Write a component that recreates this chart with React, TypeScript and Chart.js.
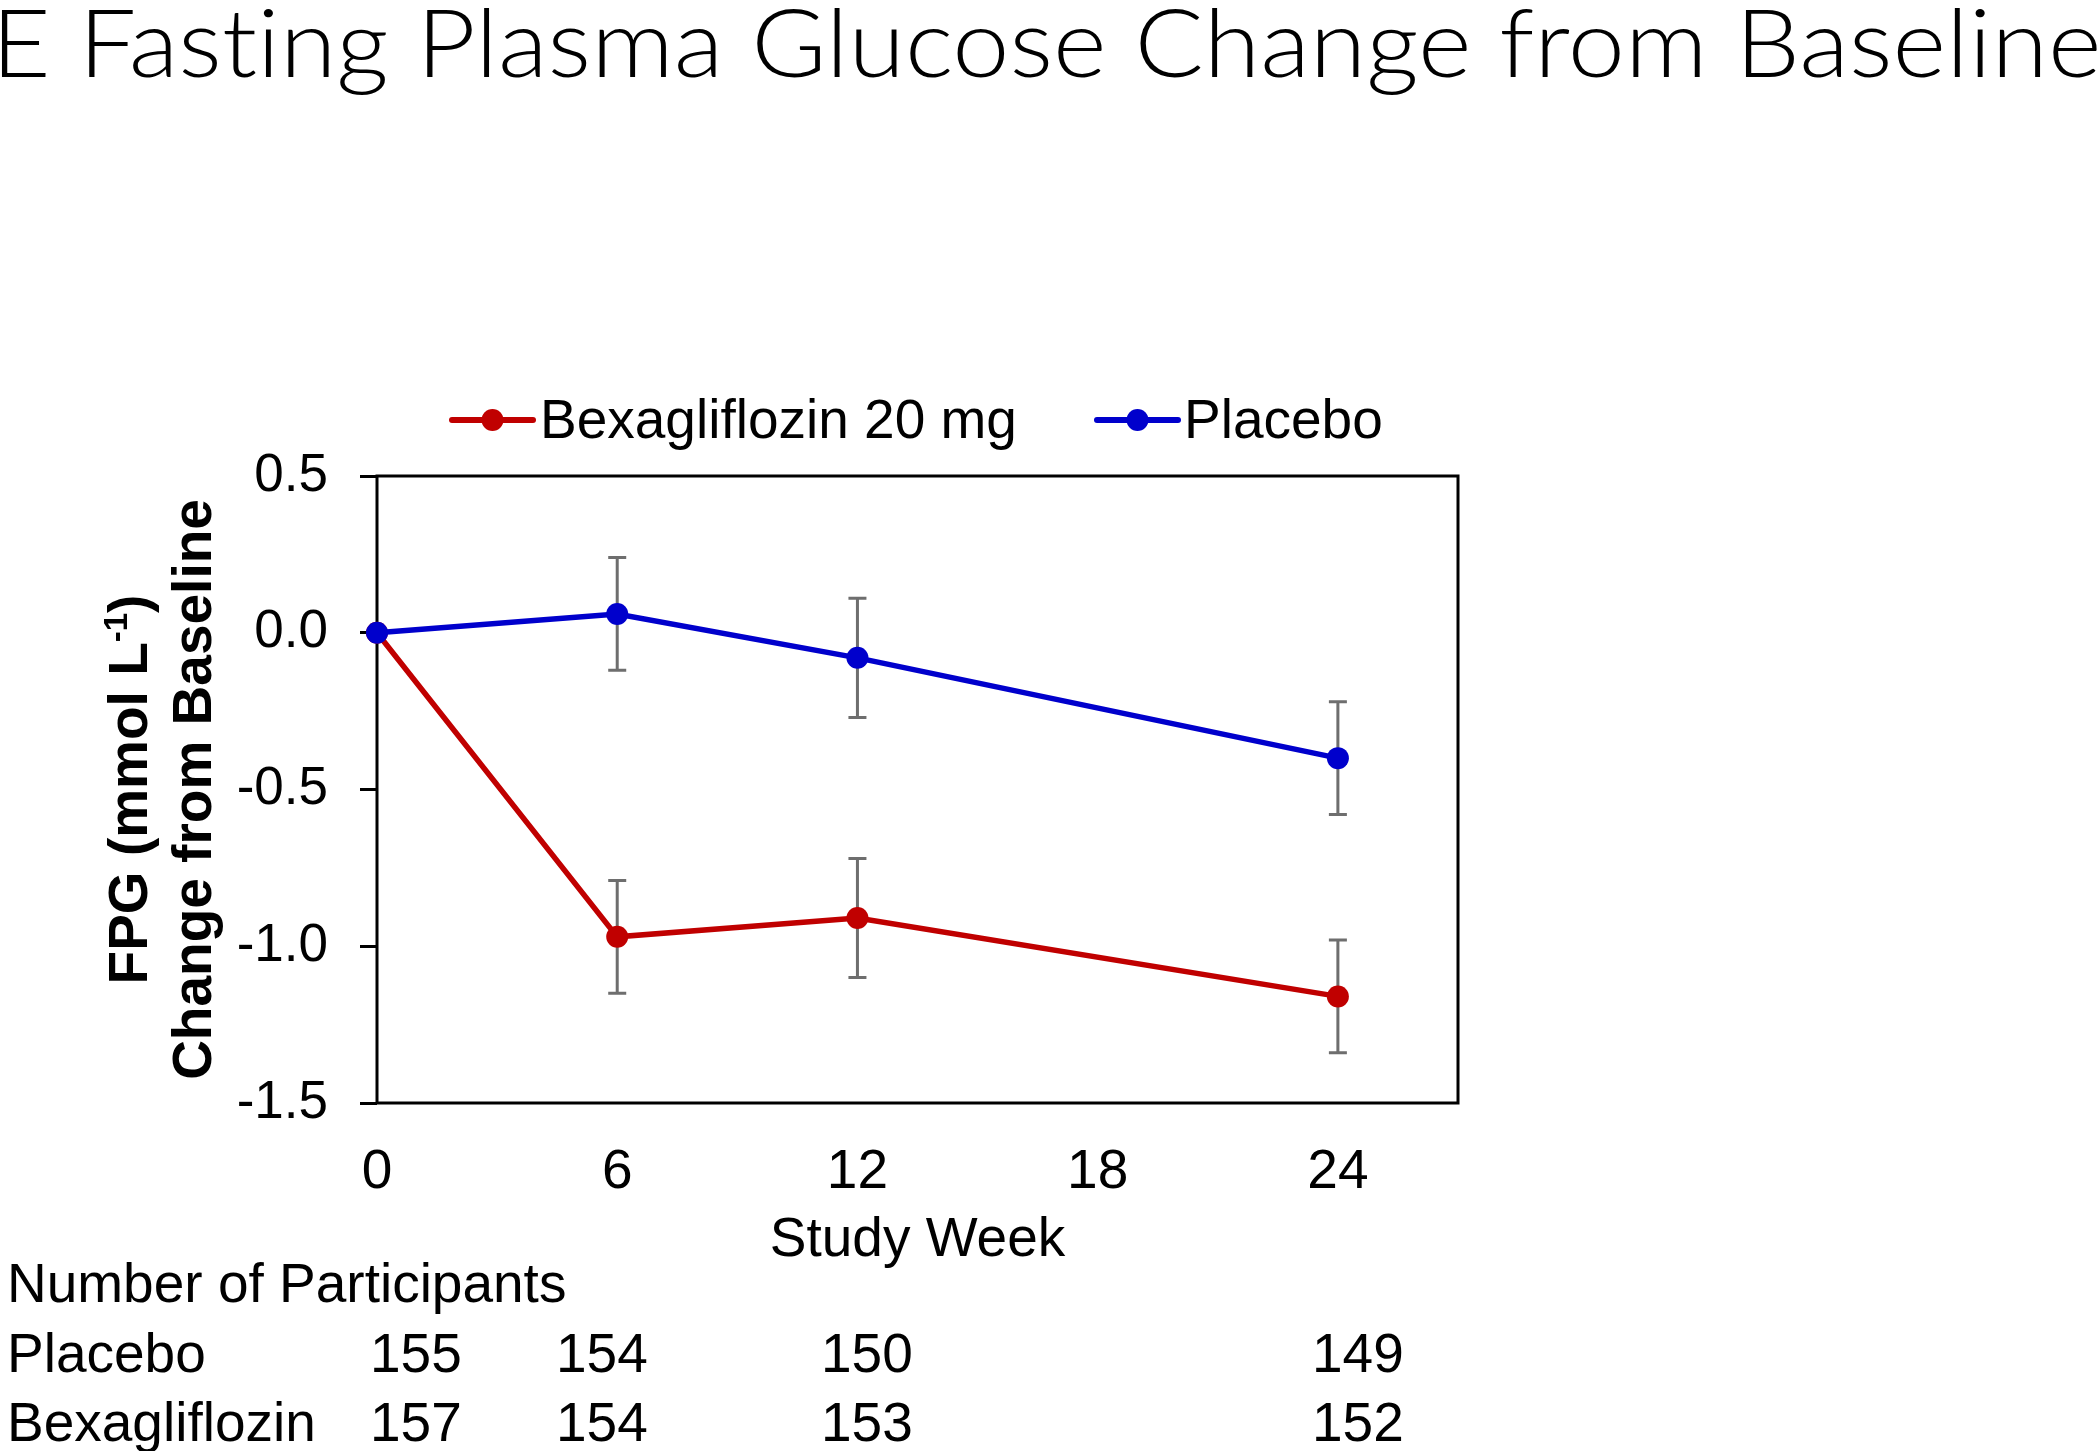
import React, { useEffect, useRef } from "react";
import { Chart, registerables } from "chart.js";

Chart.register(...registerables);

// ---------------- data ----------------
const titleText = "E Fasting Plasma Glucose Change from Baseline";
const weeks = [0, 6, 12, 24];
const bexaLabel = "Bexagliflozin 20 mg";
const placeboLabel = "Placebo";
const bexaMean = [0, -0.97, -0.91, -1.16];
const bexaErr = [0, 0.18, 0.19, 0.18];
const placeboMean = [0, 0.06, -0.08, -0.4];
const placeboErr = [0, 0.18, 0.19, 0.18];
const xTickStep = 6;
const xMin = 0;
const xMax = 27;
const yMin = -1.5;
const yMax = 0.5;
const yTickStep = 0.5;
const xTitle = "Study Week";
const yTitleLine1 = ["FPG (mmol L", "-1", ")"];
const yTitleLine2 = "Change from Baseline";
const tableHeader = "Number of Participants";
const tableRowLabels = ["Placebo", "Bexagliflozin"];
const placeboN = [155, 154, 150, 149];
const bexaN = [157, 154, 153, 152];

// ---------------- styles ----------------
const RED = "#C00000";
const BLUE = "#0000CC";
const GREY = "#6E6E6E";
const FONT = '"Liberation Sans", Arial, sans-serif';

const W = 2100;
const H = 1451;
const AREA = { left: 377, right: 1458, top: 476, bottom: 1103 };

const boxPlugin = {
  id: "plotBox",
  beforeDatasetsDraw(chart: any) {
    const { ctx, chartArea } = chart;
    ctx.save();
    ctx.strokeStyle = "#000";
    ctx.lineWidth = 3;
    ctx.strokeRect(
      chartArea.left,
      chartArea.top,
      chartArea.right - chartArea.left,
      chartArea.bottom - chartArea.top
    );
    ctx.restore();
  },
};

const errorBarPlugin = {
  id: "errorBars",
  beforeDatasetsDraw(chart: any) {
    const { ctx } = chart;
    const x = chart.scales.x;
    const y = chart.scales.y;
    ctx.save();
    ctx.strokeStyle = GREY;
    ctx.lineWidth = 3;
    const cap = 9;
    const sets: [number[], number[]][] = [
      [placeboMean, placeboErr],
      [bexaMean, bexaErr],
    ];
    sets.forEach(([m, e]) => {
      weeks.forEach((w, i) => {
        if (!e[i]) return;
        const px = x.getPixelForValue(w);
        const top = y.getPixelForValue(m[i] + e[i]);
        const bot = y.getPixelForValue(m[i] - e[i]);
        ctx.beginPath();
        ctx.moveTo(px, top);
        ctx.lineTo(px, bot);
        ctx.moveTo(px - cap, top);
        ctx.lineTo(px + cap, top);
        ctx.moveTo(px - cap, bot);
        ctx.lineTo(px + cap, bot);
        ctx.stroke();
      });
    });
    ctx.restore();
  },
};

const textPlugin = {
  id: "texts",
  afterDraw(chart: any) {
    const { ctx, chartArea } = chart;
    ctx.save();
    ctx.fillStyle = "#000";
    ctx.textBaseline = "alphabetic";

    // Title (stretched to fill the width, like the cropped slide title)
    ctx.save();
    ctx.font = '300 94px Lato, "Open Sans", sans-serif';
    try {
      (ctx as any).letterSpacing = "0.01px";
    } catch (e) {}
    const tm = ctx.measureText(titleText);
    const inkW = tm.actualBoundingBoxLeft + tm.actualBoundingBoxRight;
    const sx = 2096 / inkW;
    ctx.translate(1 + tm.actualBoundingBoxLeft * sx, 77);
    ctx.scale(sx, 1);
    ctx.textAlign = "left";
    ctx.fillText(titleText, 0, 0);
    ctx.restore();

    // Legend
    const legendY = 420;
    const items = [
      { color: RED, label: bexaLabel, x1: 452, x2: 533, tx: 540 },
      { color: BLUE, label: placeboLabel, x1: 1097, x2: 1178, tx: 1184 },
    ];
    items.forEach((it) => {
      ctx.strokeStyle = it.color;
      ctx.lineWidth = 6;
      ctx.lineCap = "round";
      ctx.beginPath();
      ctx.moveTo(it.x1, legendY);
      ctx.lineTo(it.x2, legendY);
      ctx.stroke();
      ctx.fillStyle = it.color;
      ctx.beginPath();
      ctx.arc((it.x1 + it.x2) / 2, legendY, 11, 0, Math.PI * 2);
      ctx.fill();
      ctx.fillStyle = "#000";
      ctx.font = `55px ${FONT}`;
      ctx.textAlign = "left";
      ctx.fillText(it.label, it.tx, 438);
    });

    // X axis title
    ctx.font = `55px ${FONT}`;
    ctx.textAlign = "center";
    ctx.fillText(xTitle, (chartArea.left + chartArea.right) / 2, 1256);

    // Y axis title (rotated, two lines, with superscript)
    const cy = (chartArea.top + chartArea.bottom) / 2;
    ctx.save();
    ctx.translate(147, cy);
    ctx.rotate(-Math.PI / 2);
    const big = `bold 55px ${FONT}`;
    const small = `bold 33px ${FONT}`;
    ctx.textAlign = "left";
    ctx.font = big;
    const w1 = ctx.measureText(yTitleLine1[0]).width;
    const w3 = ctx.measureText(yTitleLine1[2]).width;
    ctx.font = small;
    const w2 = ctx.measureText(yTitleLine1[1]).width;
    let sxp = -(w1 + w2 + w3) / 2;
    ctx.font = big;
    ctx.fillText(yTitleLine1[0], sxp, 0);
    sxp += w1;
    ctx.font = small;
    ctx.fillText(yTitleLine1[1], sxp, -20);
    sxp += w2;
    ctx.font = big;
    ctx.fillText(yTitleLine1[2], sxp, 0);
    ctx.textAlign = "center";
    ctx.fillText(yTitleLine2, 0, 64);
    ctx.restore();

    // Participants table
    ctx.font = `55px ${FONT}`;
    ctx.textAlign = "left";
    ctx.fillText(tableHeader, 7, 1302);
    const colX = [370, 556, 821, 1312];
    const rows = [placeboN, bexaN];
    const rowY = [1372, 1441];
    rows.forEach((vals, r) => {
      ctx.fillText(tableRowLabels[r], 7, rowY[r]);
      vals.forEach((v, c) => ctx.fillText(String(v), colX[c], rowY[r]));
    });

    ctx.restore();
  },
};

export default function App() {
  const ref = useRef<HTMLCanvasElement | null>(null);

  useEffect(() => {
    if (!ref.current) return;
    Chart.defaults.font.family = FONT;
    Chart.defaults.color = "#000";
    const chart = new Chart(ref.current, {
      type: "line",
      data: {
        datasets: [
          {
            label: placeboLabel,
            data: weeks.map((w, i) => ({ x: w, y: placeboMean[i] })),
            borderColor: BLUE,
            backgroundColor: BLUE,
            pointBackgroundColor: BLUE,
            pointBorderWidth: 0,
            pointRadius: 11,
            borderWidth: 5.5,
            tension: 0,
            clip: false as any,
            order: 0,
          },
          {
            label: bexaLabel,
            data: weeks.map((w, i) => ({ x: w, y: bexaMean[i] })),
            borderColor: RED,
            backgroundColor: RED,
            pointBackgroundColor: RED,
            pointBorderWidth: 0,
            pointRadius: 11,
            borderWidth: 5.5,
            tension: 0,
            clip: false as any,
            order: 1,
          },
        ],
      },
      options: {
        responsive: false,
        animation: false,
        devicePixelRatio: 1,
        layout: {
          padding: {
            left: 0,
            top: AREA.top,
            right: W - AREA.right,
            bottom: 0,
          },
        },
        plugins: {
          legend: { display: false },
          tooltip: { enabled: false },
          title: { display: false },
        },
        scales: {
          x: {
            type: "linear",
            min: xMin,
            max: xMax,
            border: { display: false },
            grid: { display: false, drawTicks: false },
            ticks: {
              stepSize: xTickStep,
              includeBounds: false,
              padding: 37,
              font: { size: 55, family: FONT },
              color: "#000",
              maxRotation: 0,
              autoSkip: false,
            },
            afterFit: (s: any) => {
              s.height = H - AREA.bottom;
            },
          },
          y: {
            type: "linear",
            min: yMin,
            max: yMax,
            border: { display: false },
            grid: {
              display: true,
              drawOnChartArea: false,
              drawTicks: true,
              tickLength: 17,
              color: "#000",
              lineWidth: 3,
            },
            ticks: {
              stepSize: yTickStep,
              padding: 32,
              font: { size: 53, family: FONT },
              color: "#000",
              callback: (v: any) => Number(v).toFixed(1),
            },
            afterFit: (s: any) => {
              s.width = AREA.left;
            },
          },
        },
      },
      plugins: [boxPlugin, errorBarPlugin, textPlugin],
    });
    return () => chart.destroy();
  }, []);

  return (
    <div style={{ position: "absolute", left: 0, top: 0, width: W, height: H, background: "#fff" }}>
      <canvas ref={ref} width={W} height={H} style={{ display: "block" }} />
    </div>
  );
}
